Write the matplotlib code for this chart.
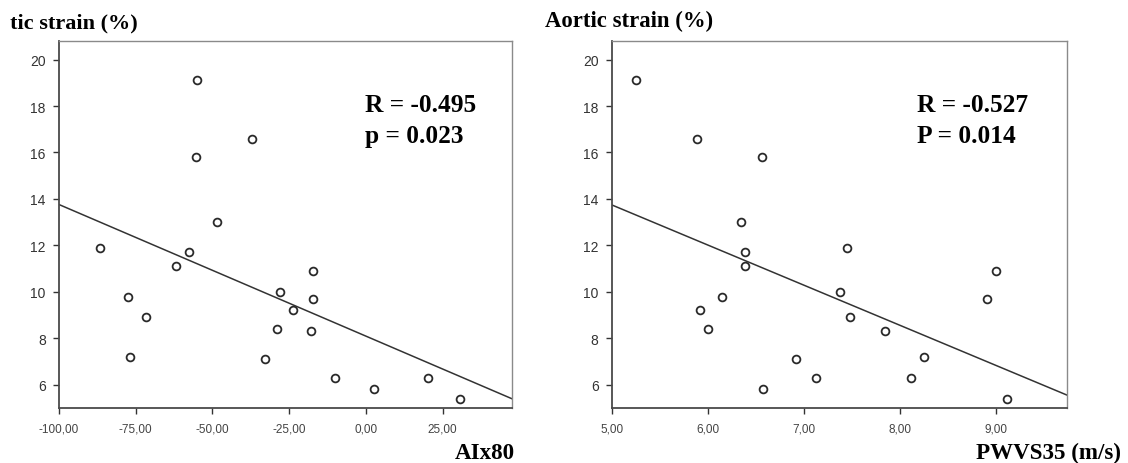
import numpy as np
import matplotlib
matplotlib.use('Agg')
import matplotlib.pyplot as plt
from matplotlib.ticker import FuncFormatter

# AIx80 vs aortic strain
aix80 = [-86.6, -57.7, -61.9, -77.4, -71.7, -76.9, -17.3, -27.9, -17.3, -23.6, -29.1,
         -17.8, -32.9, -10.1, 2.6, 20.3, 30.7, -54.9, -55.5, -37.1, -48.4]
strain_aix = [11.9, 11.7, 11.1, 9.8, 8.9, 7.2, 10.9, 10.0, 9.7, 9.2, 8.4,
              8.3, 7.1, 6.3, 5.8, 6.3, 5.4, 19.1, 15.8, 16.6, 13.0]

# PWV vs aortic strain
pwv = [5.25, 5.89, 6.57, 6.35, 6.39, 6.39, 7.45, 6.15, 5.92, 6.00, 7.38,
       7.48, 7.85, 6.92, 6.58, 7.13, 8.12, 8.25, 8.91, 9.00, 9.12]
strain_pwv = [19.1, 16.6, 15.8, 13.0, 11.7, 11.1, 11.9, 9.8, 9.2, 8.4, 10.0,
              8.9, 8.3, 7.1, 5.8, 6.3, 6.3, 7.2, 9.7, 10.9, 5.4]

stats_aix = ['R = -0.495', 'p = 0.023']
stats_pwv = ['R = -0.527', 'P = 0.014']

serif = 'Liberation Serif'
sans = 'Liberation Sans'

fig = plt.figure(figsize=(11.28, 4.64), dpi=100)
W, H = 1128, 464


def px(x0, y0, x1, y1):
    # pixel box (top-left origin) -> figure fraction rect
    return [x0 / W, 1 - y1 / H, (x1 - x0) / W, (y1 - y0) / H]


def panel(rect, x, y, xlim, xticks):
    ax = fig.add_axes(rect)
    ax.set_xlim(*xlim)
    ax.set_ylim(5.0, 20.8)
    # least squares fit line across the whole x range
    k, b = np.polyfit(x, y, 1)
    xx = np.array(xlim)
    ax.plot(xx, k * xx + b, color='#333333', lw=1.1, zorder=2)
    ax.plot(x, y, 'o', ms=5.6, mfc='white', mec='#2a2a2a', mew=1.3, zorder=3)

    ax.set_yticks(range(6, 21, 2))
    ax.set_xticks(xticks)
    ax.xaxis.set_major_formatter(FuncFormatter(lambda v, p: f'{v:.2f}'.replace('.', ',')))
    ax.tick_params(axis='y', length=4, width=1.0, pad=5.5, labelsize=10,
                   colors='#333333', labelcolor='#333333')
    ax.tick_params(axis='x', length=4.5, width=1.0, pad=6, labelsize=8.5,
                   colors='#333333', labelcolor='#444444')
    for lab in ax.get_xticklabels() + ax.get_yticklabels():
        lab.set_family(sans)
    for s in ('left', 'bottom'):
        ax.spines[s].set_color('#4a4a4a')
        ax.spines[s].set_linewidth(1.3)
    for s in ('top', 'right'):
        ax.spines[s].set_color('#8a8a8a')
        ax.spines[s].set_linewidth(1.0)
    return ax


ax1 = panel(px(59, 42, 512, 409), aix80, strain_aix, (-100, 47.6),
            [-100, -75, -50, -25, 0, 25])
ax2 = panel(px(611.7, 42, 1066.7, 409), pwv, strain_pwv, (5, 9.74),
            [5, 6, 7, 8, 9])

# correlation text
fig.text(365 / W, 1 - 111.7 / H, stats_aix[0], family=serif, weight='bold', fontsize=18.3)
fig.text(365 / W, 1 - 143 / H, stats_aix[1], family=serif, weight='bold', fontsize=18.3)
fig.text(917 / W, 1 - 111.7 / H, stats_pwv[0], family=serif, weight='bold', fontsize=18.3)
fig.text(917 / W, 1 - 143 / H, stats_pwv[1], family=serif, weight='bold', fontsize=18.3)

# axis titles
fig.text(10 / W, 1 - 28 / H, 'tic strain (%)', family=serif, weight='bold',
         fontsize=16.0, ha='left')
fig.text(713 / W, 1 - 27 / H, 'Aortic strain (%)', family=serif, weight='bold',
         fontsize=16.4, ha='right')
fig.text(515 / W, 1 - 459 / H, 'AIx80', family=serif, weight='bold',
         fontsize=16.6, ha='right')
fig.text(1121 / W, 1 - 459 / H, 'PWVS35 (m/s)', family=serif, weight='bold',
         fontsize=16.6, ha='right')

fig.savefig('out.png', dpi=100)
